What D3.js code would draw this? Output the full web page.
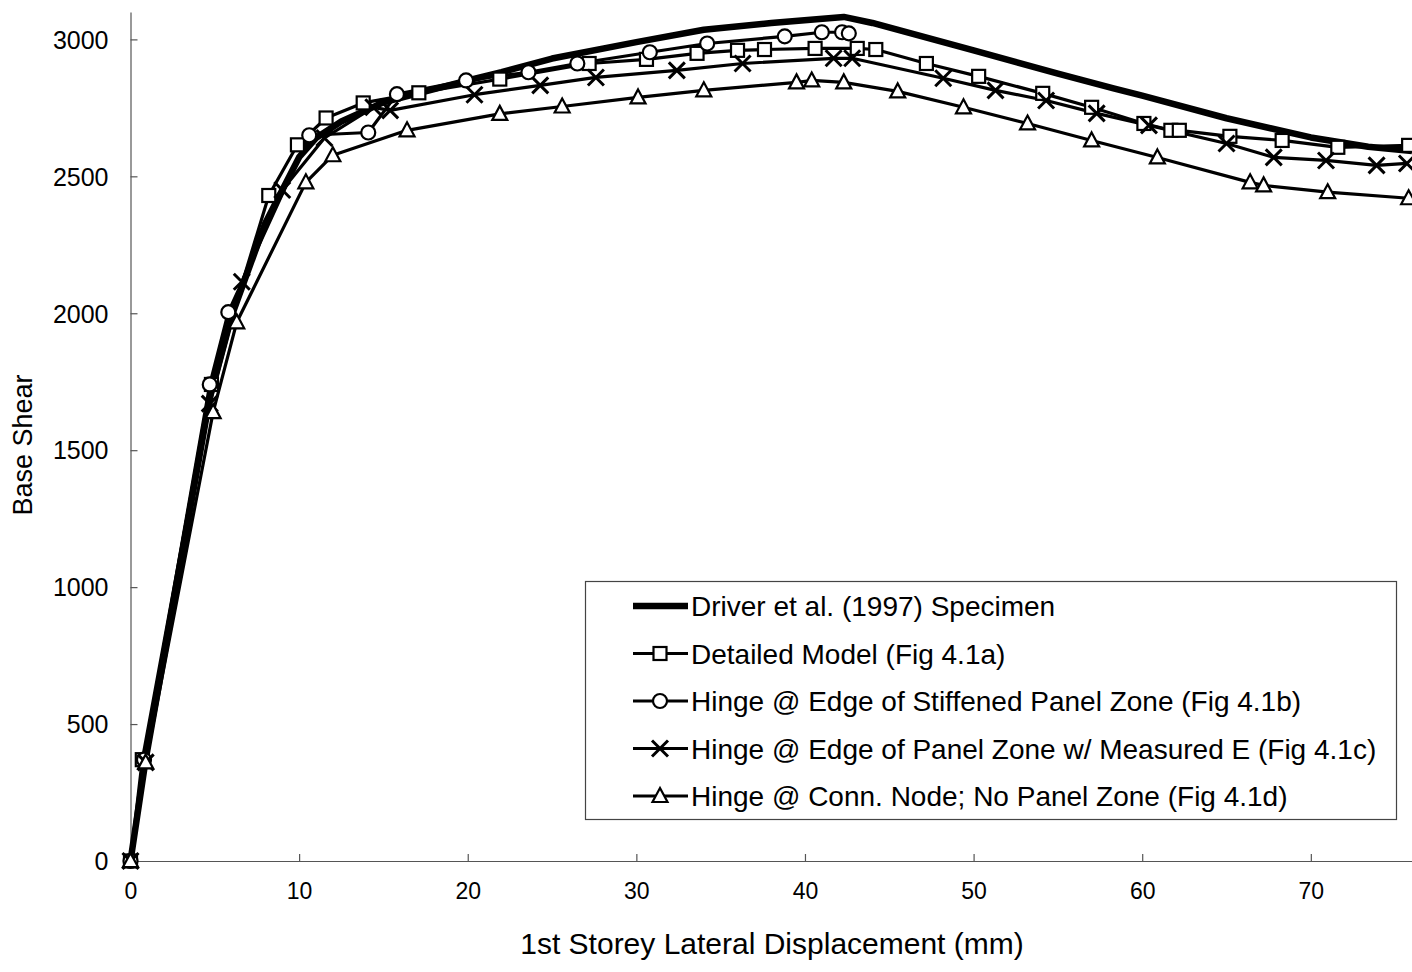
<!DOCTYPE html>
<html lang="en">
<head>
<meta charset="UTF-8">
<title>Base Shear vs 1st Storey Lateral Displacement</title>
<script src="https://d3js.org/d3.v7.min.js"></script>
<style>
    body, html { margin: 0; padding: 0; background: #fff; overflow: hidden; }
    svg { display: block; }
    text { font-family: "Liberation Sans", Arial, sans-serif; fill: #000; }
</style>
</head>
<body>
<div id="chart"></div>
<script>
    // tick labels
    var xTicks = [0, 10, 20, 30, 40, 50, 60, 70];
    var yTicks = [0, 500, 1000, 1500, 2000, 2500, 3000];

    // Driver et al. (1997) Specimen
    var driverX = [0, 0.9, 4.7, 6.0, 8.0, 10.0, 11.0, 12.5, 15, 20, 22, 25, 30, 34, 38, 42.3, 44, 50, 55, 58.3, 60, 65, 70, 73.4, 76];
    var driverY = [0, 370, 1690, 1990, 2330, 2570, 2640, 2700, 2770, 2850, 2880, 2930, 2990, 3035, 3060, 3082, 3060, 2960, 2875, 2821, 2795, 2712, 2642, 2608, 2592];

    // Detailed Model (Fig 4.1a)
    var detX = [0, 0.7, 4.8, 8.2, 9.9, 11.6, 13.8, 17.1, 21.9, 27.2, 30.6, 33.6, 36.0, 37.6, 40.6, 43.1, 44.2, 47.2, 50.3, 54.1, 57.0, 60.1, 61.7, 62.2, 65.2, 68.3, 71.6, 75.8];
    var detY = [0, 370, 1740, 2430, 2615, 2713, 2768, 2805, 2855, 2912, 2927, 2949, 2960, 2963, 2967, 2967, 2963, 2912, 2865, 2803, 2752, 2693, 2668, 2668, 2646, 2631, 2606, 2613];

    // Hinge @ Edge of Stiffened Panel Zone (Fig 4.1b)
    var stiffX = [0, 0.8, 4.7, 5.8, 10.6, 14.1, 15.8, 19.9, 23.6, 26.5, 30.8, 34.2, 38.8, 41.0, 42.2, 42.6];
    var stiffY = [0, 370, 1740, 2004, 2650, 2660, 2800, 2850, 2880, 2912, 2953, 2985, 3011, 3026, 3026, 3022];

    // Hinge @ Edge of Panel Zone w/ Measured E (Fig 4.1c)
    var measX = [0, 0.9, 4.7, 6.6, 9.0, 11.5, 14.4, 15.4, 20.4, 24.3, 27.6, 32.4, 36.3, 41.7, 42.8, 48.2, 51.3, 54.3, 57.3, 60.4, 65.0, 67.8, 70.9, 73.9, 75.7];
    var measY = [0, 360, 1670, 2115, 2450, 2640, 2752, 2741, 2798, 2832, 2861, 2887, 2912, 2931, 2931, 2858, 2814, 2777, 2730, 2686, 2620, 2569, 2558, 2540, 2547];

    // Hinge @ Conn. Node; No Panel Zone (Fig 4.1d)
    var nodeX = [0, 0.9, 4.9, 6.3, 10.4, 12.0, 16.4, 21.9, 25.6, 30.1, 34.0, 39.5, 40.4, 42.3, 45.5, 49.4, 53.2, 57.0, 60.9, 66.4, 67.2, 71.0, 75.8];
    var nodeY = [0, 360, 1639, 1967, 2478, 2577, 2668, 2728, 2755, 2788, 2814, 2843, 2850, 2843, 2810, 2752, 2693, 2631, 2569, 2478, 2467, 2442, 2420];

    var seriesNames = [
        "Driver et al. (1997) Specimen",
        "Detailed Model (Fig 4.1a)",
        "Hinge @ Edge of Stiffened Panel Zone (Fig 4.1b)",
        "Hinge @ Edge of Panel Zone w/ Measured E (Fig 4.1c)",
        "Hinge @ Conn. Node; No Panel Zone (Fig 4.1d)"
    ];

    function zip(xs, ys) {
        return xs.map(function (d, i) { return { x: d, y: ys[i] }; });
    }

    var series = [
        { name: seriesNames[0], data: zip(driverX, driverY), width: 6.5, marker: null },
        { name: seriesNames[1], data: zip(detX, detY), width: 3.2, marker: "square" },
        { name: seriesNames[2], data: zip(stiffX, stiffY), width: 3.2, marker: "circle" },
        { name: seriesNames[3], data: zip(measX, measY), width: 3.2, marker: "cross" },
        { name: seriesNames[4], data: zip(nodeX, nodeY), width: 3.2, marker: "triangle" }
    ];

    var W = 1412, H = 972;
    // plot box (window.top is read-only, so no "top" here)
    var pLeft = 130.5, pRight = 1412, pTop = 12, pBottom = 861;

    var svg = d3.select("#chart").append("svg")
        .attr("width", W)
        .attr("height", H);

    var x = d3.scaleLinear().domain([0, 76]).range([pLeft, pRight]);
    var y = d3.scaleLinear().domain([0, 3100]).range([pBottom, pTop]);

    // axes (ticks point into the plot)
    var xAxis = svg.append("g")
        .attr("transform", "translate(0," + pBottom + ")")
        .call(d3.axisBottom(x).tickValues(xTicks).tickSizeInner(-7).tickSizeOuter(0).tickPadding(20));
    var yAxis = svg.append("g")
        .attr("transform", "translate(" + pLeft + ",0)")
        .call(d3.axisLeft(y).tickValues(yTicks).tickFormat(d3.format("d")).tickSizeInner(-7).tickSizeOuter(0).tickPadding(22));

    [xAxis, yAxis].forEach(function (ax) {
        ax.select(".domain").attr("stroke", "#555").attr("stroke-width", 1.2);
        ax.selectAll(".tick line").attr("stroke", "#555").attr("stroke-width", 1.2);
        ax.selectAll("text").attr("fill", "#000");
    });
    xAxis.selectAll("text").style("font-size", "23px").attr("dy", "0.8em");
    yAxis.selectAll("text").style("font-size", "25px").attr("dy", "0.35em");

    // axis titles
    svg.append("text")
        .attr("x", 772)
        .attr("y", 954)
        .attr("text-anchor", "middle")
        .style("font-size", "30px")
        .text("1st Storey Lateral Displacement (mm)");

    svg.append("text")
        .attr("transform", "translate(32," + 445 + ") rotate(-90)")
        .attr("text-anchor", "middle")
        .style("font-size", "27px")
        .text("Base Shear");

    var plot = svg.append("g");

    var line = d3.line()
        .x(function (d) { return x(d.x); })
        .y(function (d) { return y(d.y); });

    function drawMarker(g, type, cx, cy) {
        if (type === "square") {
            g.append("rect")
                .attr("x", cx - 6.5).attr("y", cy - 6.5)
                .attr("width", 13).attr("height", 13)
                .attr("fill", "#fff").attr("stroke", "#000").attr("stroke-width", 2.2);
        } else if (type === "circle") {
            g.append("circle")
                .attr("cx", cx).attr("cy", cy).attr("r", 7)
                .attr("fill", "#fff").attr("stroke", "#000").attr("stroke-width", 2.2);
        } else if (type === "cross") {
            g.append("path")
                .attr("d", "M" + (cx - 8) + "," + (cy - 8) + "L" + (cx + 8) + "," + (cy + 8) +
                    "M" + (cx - 8) + "," + (cy + 8) + "L" + (cx + 8) + "," + (cy - 8))
                .attr("stroke", "#000").attr("stroke-width", 3).attr("fill", "none");
        } else if (type === "triangle") {
            g.append("path")
                .attr("d", "M" + cx + "," + (cy - 8) + "L" + (cx + 7.5) + "," + (cy + 6) +
                    "L" + (cx - 7.5) + "," + (cy + 6) + "Z")
                .attr("fill", "#fff").attr("stroke", "#000").attr("stroke-width", 2.2);
        }
    }

    series.forEach(function (s) {
        plot.append("path")
            .datum(s.data)
            .attr("fill", "none")
            .attr("stroke", "#000")
            .attr("stroke-width", s.width)
            .attr("stroke-linejoin", "round")
            .attr("d", line);
    });

    series.forEach(function (s) {
        if (!s.marker) return;
        var mg = plot.append("g");
        s.data.forEach(function (d) {
            drawMarker(mg, s.marker, x(d.x), y(d.y));
        });
    });

    // legend
    var lg = svg.append("g");
    lg.append("rect")
        .attr("x", 585.5).attr("y", 581.5)
        .attr("width", 811).attr("height", 238)
        .attr("fill", "#fff").attr("stroke", "#444").attr("stroke-width", 1.2);

    series.forEach(function (s, i) {
        var cy = 606 + i * 47.5;
        lg.append("line")
            .attr("x1", 633).attr("x2", 688)
            .attr("y1", cy).attr("y2", cy)
            .attr("stroke", "#000").attr("stroke-width", s.width);
        if (s.marker) drawMarker(lg, s.marker, 660, cy);
        lg.append("text")
            .attr("x", 691)
            .attr("y", cy)
            .attr("dy", "0.36em")
            .style("font-size", "28px")
            .text(s.name);
    });
</script>
</body>
</html>
